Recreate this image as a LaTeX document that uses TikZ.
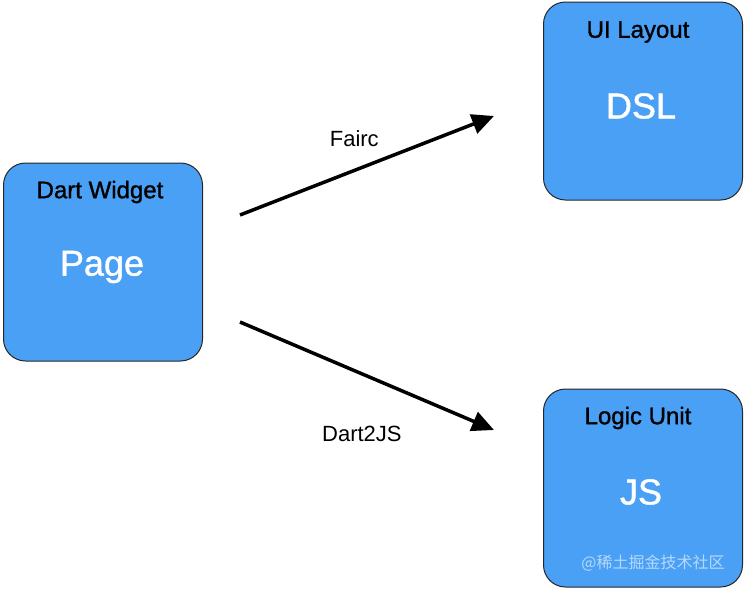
\documentclass[tikz,border=0pt]{standalone}
\usepackage{fontspec}
\setmainfont{Liberation Sans}
\newfontfamily\medfont[FakeBold=1.2]{Liberation Sans}
\newfontfamily\cjk{Noto Sans CJK SC}
\usetikzlibrary{arrows.meta}
\definecolor{boxblue}{RGB}{74,160,245}

\begin{document}
\begin{tikzpicture}[x=1pt,y=-1pt]

      \useasboundingbox (0,0) rectangle (744,590);

      \begin{scope}[every node/.style={draw=black!85, line width=1pt, fill=boxblue,
          rounded corners=22pt, minimum width=199pt, minimum height=198pt}]
        \node (1) at (103,262) {};
        \node (2) at (643,101) {};
        \node (3) at (643,488) {};
      \end{scope}

      \begin{scope}[every node/.style={font=\medfont\fontsize{24}{28}\selectfont}]
        \node (1t) at (100,192) {Dart Widget};
        \node (2t) at (638,32)  {UI Layout};
        \node (3t) at (638,418) {Logic Unit};
      \end{scope}

      \begin{scope}[every node/.style={text=white, font=\medfont\fontsize{36}{42}\selectfont}]
        \node (1b) at (102,267) {Page};
        \node (2b) at (641,106) {DSL};
        \node (3b) at (641,492) {JS};
      \end{scope}

      \coordinate (a1) at (240,215);
      \coordinate (b1) at (494,116);
      \coordinate (a2) at (240,322);
      \coordinate (b2) at (494,430);

      \begin{scope}[every node/.style={font=\fontsize{22}{26}\selectfont}]
        \begin{scope}[every edge/.style={draw, line width=3.5pt, -{Triangle[length=22pt,width=20pt]}}]
          \path (a1) edge node[pos=0.45, above=19pt] (l1) {Fairc} (b1);
          \path (a2) edge node[pos=0.48, below=47pt] (l2) {Dart2JS} (b2);
        \end{scope}
      \end{scope}

      \node[text=white, text opacity=0.6, font=\cjk\fontsize{16}{18}\selectfont] (wm) at (653,563) {@稀土掘金技术社区};

    \end{tikzpicture}
\end{document}
